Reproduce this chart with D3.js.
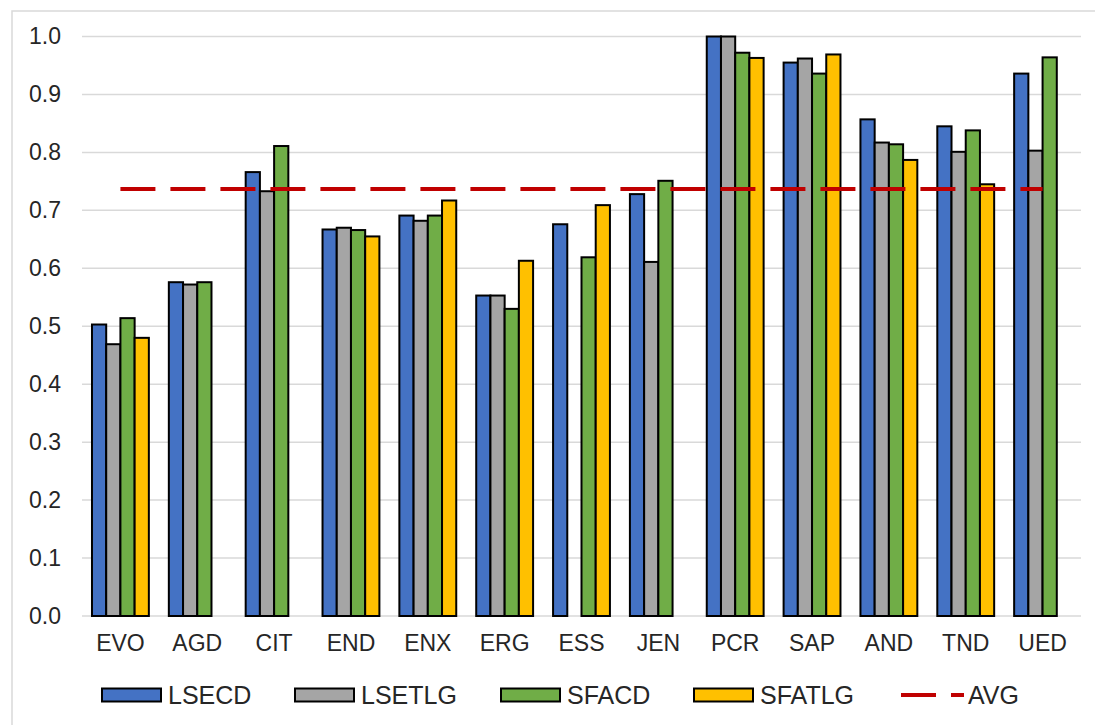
<!DOCTYPE html>
<html>
<head>
<meta charset="utf-8">
<script src="https://cdn.jsdelivr.net/npm/d3@7"></script>
<style>
  body { margin: 0; background: #fff; }
  svg { font-family: Arial, "Liberation Sans", sans-serif; }
</style>
</head>
<body>
<div id="chart"></div>
<script>
const categories = ["EVO", "AGD", "CIT", "END", "ENX", "ERG", "ESS", "JEN", "PCR", "SAP", "AND", "TND", "UED"];
const seriesNames = ["LSECD", "LSETLG", "SFACD", "SFATLG"];
const lsecd  = [0.503, 0.576, 0.766, 0.667, 0.691, 0.553, 0.676, 0.728, 1.000, 0.955, 0.857, 0.845, 0.936];
const lsetlg = [0.469, 0.572, 0.733, 0.670, 0.682, 0.553, null,  0.611, 1.000, 0.962, 0.817, 0.801, 0.803];
const sfacd  = [0.514, 0.576, 0.811, 0.666, 0.691, 0.530, 0.619, 0.751, 0.972, 0.936, 0.814, 0.838, 0.964];
const sfatlg = [0.480, null,  null,  0.655, 0.717, 0.613, 0.709, null,  0.963, 0.969, 0.787, 0.745, null];
const avgValue = 0.737;
const yTicks = [0, 0.1, 0.2, 0.3, 0.4, 0.5, 0.6, 0.7, 0.8, 0.9, 1.0];

const colors = ["#4472C4", "#A5A5A5", "#70AD47", "#FFC000"];
const seriesValues = [lsecd, lsetlg, sfacd, sfatlg];

const width = 1095, height = 725;
const margin = { top: 36.5, right: 14, bottom: 109, left: 82 };

const svg = d3.select("#chart").append("svg")
  .attr("width", width)
  .attr("height", height);

// outer chart border
svg.append("rect")
  .attr("x", 12).attr("y", 11)
  .attr("width", 1200).attr("height", 900)
  .attr("fill", "none")
  .attr("stroke", "#d9d9d9")
  .attr("stroke-width", 1.5);

const x = d3.scaleBand()
  .domain(categories)
  .range([margin.left, width - margin.right])
  .paddingInner(0.26)
  .paddingOuter(0.13);

const xs = d3.scaleBand()
  .domain(seriesNames)
  .range([0, x.bandwidth()]);

const y = d3.scaleLinear()
  .domain([0, 1])
  .range([height - margin.bottom, margin.top]);

// gridlines
svg.append("g")
  .selectAll("line")
  .data(yTicks)
  .join("line")
  .attr("x1", margin.left)
  .attr("x2", width - margin.right)
  .attr("y1", d => y(d))
  .attr("y2", d => y(d))
  .attr("stroke", "#d9d9d9")
  .attr("stroke-width", 1.5);

// y axis labels
const yAxis = svg.append("g")
  .attr("transform", `translate(${margin.left},0)`)
  .call(d3.axisLeft(y).tickValues(yTicks).tickFormat(d3.format(".1f")).tickSize(0).tickPadding(21));
yAxis.select(".domain").remove();
yAxis.selectAll("text")
  .attr("font-size", 23)
  .attr("fill", "#262626")
  .attr("font-family", "Arial, 'Liberation Sans', sans-serif");

// x axis labels
const xAxis = svg.append("g")
  .attr("transform", `translate(0,${y(0)})`)
  .call(d3.axisBottom(x).tickSize(0).tickPadding(19));
xAxis.select(".domain").remove();
xAxis.selectAll("text")
  .attr("font-size", 23)
  .attr("fill", "#262626")
  .attr("font-family", "Arial, 'Liberation Sans', sans-serif");

// bars
const barData = [];
categories.forEach((c, i) => {
  seriesNames.forEach((s, j) => {
    const v = seriesValues[j][i];
    if (v !== null) barData.push({ cat: c, series: s, value: v, color: colors[j] });
  });
});

svg.append("g")
  .selectAll("rect")
  .data(barData)
  .join("rect")
  .attr("x", d => x(d.cat) + xs(d.series))
  .attr("y", d => y(d.value))
  .attr("width", xs.bandwidth())
  .attr("height", d => y(0) - y(d.value))
  .attr("fill", d => d.color)
  .attr("stroke", "#000")
  .attr("stroke-width", 2);

// AVG dashed line
const avgLine = d3.line()
  .x(d => x(d) + x.bandwidth() / 2)
  .y(() => y(avgValue));

svg.append("path")
  .datum(categories)
  .attr("d", avgLine)
  .attr("fill", "none")
  .attr("stroke", "#C00000")
  .attr("stroke-width", 4)
  .attr("stroke-dasharray", "35,15");

// legend
const legendY = 695;
const legendItems = [
  { name: "LSECD", color: colors[0], x: 102 },
  { name: "LSETLG", color: colors[1], x: 295 },
  { name: "SFACD", color: colors[2], x: 501 },
  { name: "SFATLG", color: colors[3], x: 694 }
];

const legend = svg.append("g");
legendItems.forEach(it => {
  legend.append("rect")
    .attr("x", it.x).attr("y", legendY - 6.5)
    .attr("width", 59).attr("height", 13)
    .attr("fill", it.color)
    .attr("stroke", "#000")
    .attr("stroke-width", 2);
  legend.append("text")
    .attr("x", it.x + 66).attr("y", legendY)
    .attr("dy", "0.35em")
    .attr("font-size", 25)
    .attr("fill", "#262626")
    .text(it.name);
});

legend.append("line")
  .attr("x1", 901).attr("x2", 964)
  .attr("y1", legendY).attr("y2", legendY)
  .attr("stroke", "#C00000")
  .attr("stroke-width", 4)
  .attr("stroke-dasharray", "35,15");
legend.append("text")
  .attr("x", 968).attr("y", legendY)
  .attr("dy", "0.35em")
  .attr("font-size", 25)
  .attr("fill", "#262626")
  .text("AVG");
</script>
</body>
</html>
